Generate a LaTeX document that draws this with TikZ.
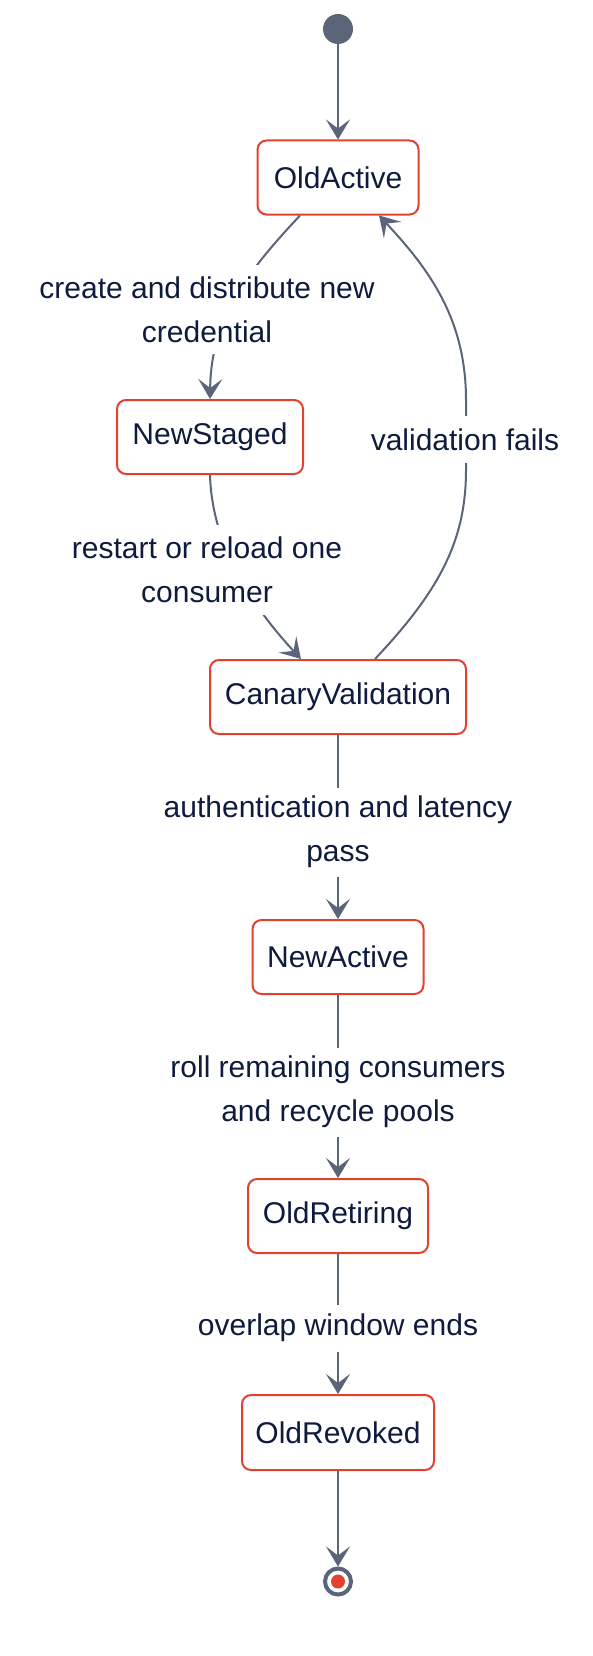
\documentclass[tikz,border=0pt]{standalone}
\usepackage{fontspec}
\setmainfont{Liberation Sans}
\usetikzlibrary{arrows.meta}
\definecolor{slate}{HTML}{5B6579}
\definecolor{brd}{HTML}{E3412F}
\definecolor{ink}{HTML}{0E1B3D}
\begin{document}
\begin{tikzpicture}[x=1pt,y=-1pt,
  state/.style={draw=brd, line width=2pt, rounded corners=9pt, fill=white, minimum height=74pt, inner sep=0pt, text=ink, font=\fontsize{30}{44}\selectfont},
  lbl/.style={fill=white, inner sep=0pt, align=center, text=ink, font=\fontsize{30}{44}\selectfont},
  edge/.style={draw=slate, line width=2pt, -{Stealth[length=20pt,width=24pt,inset=9pt]}},
  plain/.style={draw=slate, line width=2pt}]
\useasboundingbox[fill=white] (0,0) rectangle (592,1656);
% states
\node[circle, fill=slate, minimum size=30pt, inner sep=0pt] (start) at (338,29) {};
\node[state, minimum width=161pt] (OA) at (338,177.5) {OldActive};
\node[state, minimum width=186pt] (NS) at (210,437) {NewStaged};
\node[state, minimum width=256pt] (CV) at (338,697) {CanaryValidation};
\node[state, minimum width=171pt] (NA) at (338,957) {NewActive};
\node[state, minimum width=180pt] (ORt) at (338,1216) {OldRetiring};
\node[state, minimum width=192pt, minimum height=75pt] (ORv) at (338,1432.5) {OldRevoked};
\node[circle, draw=slate, line width=4pt, fill=white, minimum size=26pt, inner sep=0pt] (end) at (338,1581.5) {};
\node[circle, fill=brd, minimum size=14pt, inner sep=0pt] (enddot) at (end.center) {};
% edges
\draw[edge] (start) -- (OA);
\draw[edge] ([xshift=-38pt]OA.south) .. controls (245,274) and (211,320) .. (NS.north);
\draw[edge] (NS.south) .. controls (212,545) and (251,605) .. ([xshift=-37pt]CV.north);
\draw[edge] ([xshift=37pt]CV.north) .. controls (440,590) and (466,540) .. (466,470) -- (466,400) .. controls (466,320) and (430,270) .. ([xshift=41pt]OA.south);
\draw[edge] (CV) -- (NA);
\draw[edge] (NA) -- (ORt);
\draw[edge] (ORt) -- (ORv);
\draw[edge] (ORv) -- (end);
% labels
\node[lbl, minimum height=89pt] (l1) at (207,309.5) {create and distribute new\\credential};
\node[lbl, minimum height=90pt] (l2) at (207,570) {restart or reload one\\consumer};
\node[lbl, minimum height=47pt] (l3) at (465,439.5) {validation fails};
\node[lbl, minimum height=89pt] (l4) at (338,832) {authentication and latency\\pass};
\node[lbl, minimum height=89pt] (l5) at (338,1092) {roll remaining consumers\\and recycle pools};
\node[lbl, minimum height=47pt] (l6) at (338,1328) {overlap window ends};
\end{tikzpicture}
\end{document}
